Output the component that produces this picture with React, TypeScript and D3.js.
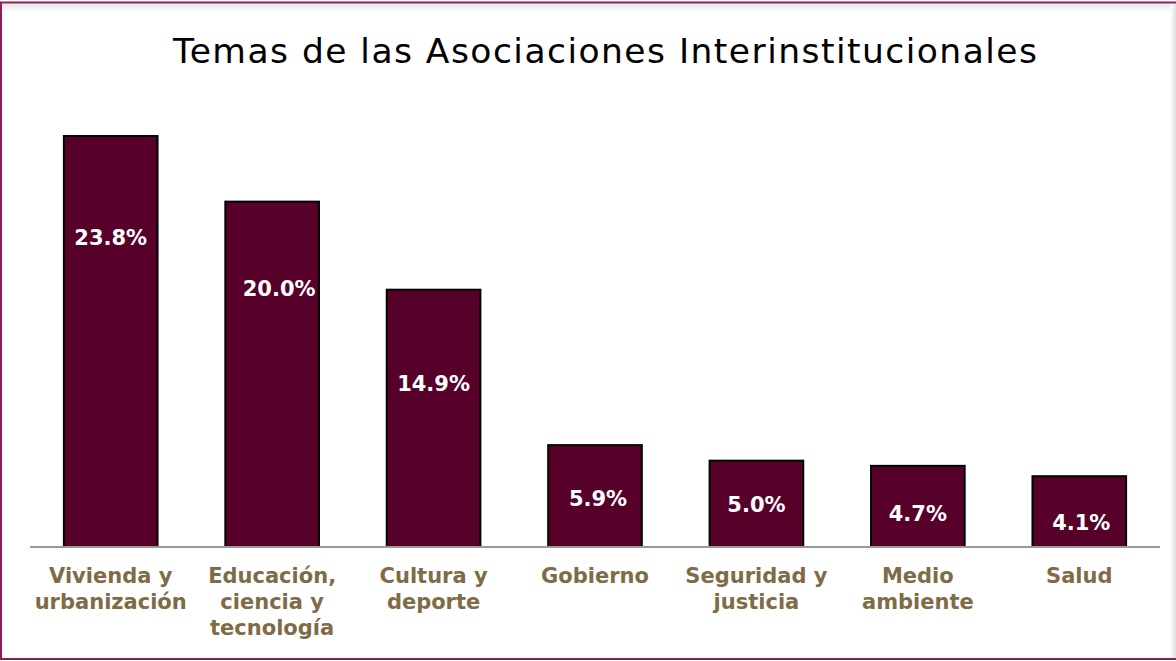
import React from "react";
import * as d3 from "d3";

const title = "Temas de las Asociaciones Interinstitucionales";
const categories: string[][] = [
  ["Vivienda y", "urbanización"],
  ["Educación,", "ciencia y", "tecnología"],
  ["Cultura y", "deporte"],
  ["Gobierno"],
  ["Seguridad y", "justicia"],
  ["Medio", "ambiente"],
  ["Salud"],
];
const values: number[] = [23.8, 20.0, 14.9, 5.9, 5.0, 4.7, 4.1];
const valueLabels: string[] = ["23.8%", "20.0%", "14.9%", "5.9%", "5.0%", "4.7%", "4.1%"];
// where each value label sits, in data units (as placed in the original)
const labelAnchor: number[] = [17.9, 15.0, 9.5, 2.84, 2.49, 1.97, 1.45];
const labelShift: number[] = [0, 7, 0, 3, 0, 0, 2];

const W = 1176;
const H = 661;
const FONT = "'DejaVu Sans', Verdana, sans-serif";

export default function App() {
  const keys = categories.map((_, i) => String(i));
  const x = d3.scaleBand<string>().domain(keys).range([30, 1160]).paddingInner(0.42).paddingOuter(0.21);
  const y = d3.scaleLinear().domain([0, 25]).range([547, 115.3]);

  return (
    <svg
      width={W}
      height={H}
      style={{ position: "absolute", left: 0, top: 0, display: "block", background: "#fff" }}
      fontFamily={FONT}
    >
      <defs>
        <linearGradient id="topShade" x1="0" y1="0" x2="0" y2="1">
          <stop offset="0" stopColor="#e6e6e6" />
          <stop offset="1" stopColor="#ffffff" />
        </linearGradient>
        <linearGradient id="rightShade" x1="0" y1="0" x2="1" y2="0">
          <stop offset="0" stopColor="#ffffff" />
          <stop offset="1" stopColor="#e0e0e0" />
        </linearGradient>
      </defs>
      <rect x={0} y={0} width={W} height={H} fill="#fff" />
      <rect x={2} y={4} width={W} height={8} fill="url(#topShade)" />
      <rect x={W - 6} y={4} width={6} height={H - 6} fill="url(#rightShade)" />
      <rect x={1} y={2.5} width={W + 4} height={656.5} fill="none" stroke="#8c1d55" strokeWidth={2} />

      <text
        x={605}
        y={63}
        textAnchor="middle"
        fontSize={34.5}
        fill="#000"
        textLength={864}
        lengthAdjust="spacing"
      >
        {title}
      </text>

      {values.map((v, i) => (
        <rect
          key={"b" + i}
          x={x(String(i))!}
          y={y(v)}
          width={x.bandwidth()}
          height={y(0) - y(v)}
          fill="#56002a"
          stroke="#000"
          strokeWidth={2}
        />
      ))}

      <line x1={30} x2={1160} y1={y(0)} y2={y(0)} stroke="#9a9a9a" strokeWidth={2} />

      {values.map((v, i) => (
        <text
          key={"l" + i}
          x={x(String(i))! + x.bandwidth() / 2 + labelShift[i]}
          y={y(labelAnchor[i])}
          dy="0.36em"
          textAnchor="middle"
          fontSize={21}
          fontWeight="bold"
          fill="#fff"
        >
          {valueLabels[i]}
        </text>
      ))}

      {categories.map((lines, i) => (
        <text
          key={"c" + i}
          x={x(String(i))! + x.bandwidth() / 2}
          y={583}
          textAnchor="middle"
          fontSize={21}
          fontWeight="bold"
          fill="#7f6b45"
        >
          {lines.map((t, j) => (
            <tspan key={j} x={x(String(i))! + x.bandwidth() / 2} dy={j === 0 ? 0 : 26}>
              {t}
            </tspan>
          ))}
        </text>
      ))}
    </svg>
  );
}
